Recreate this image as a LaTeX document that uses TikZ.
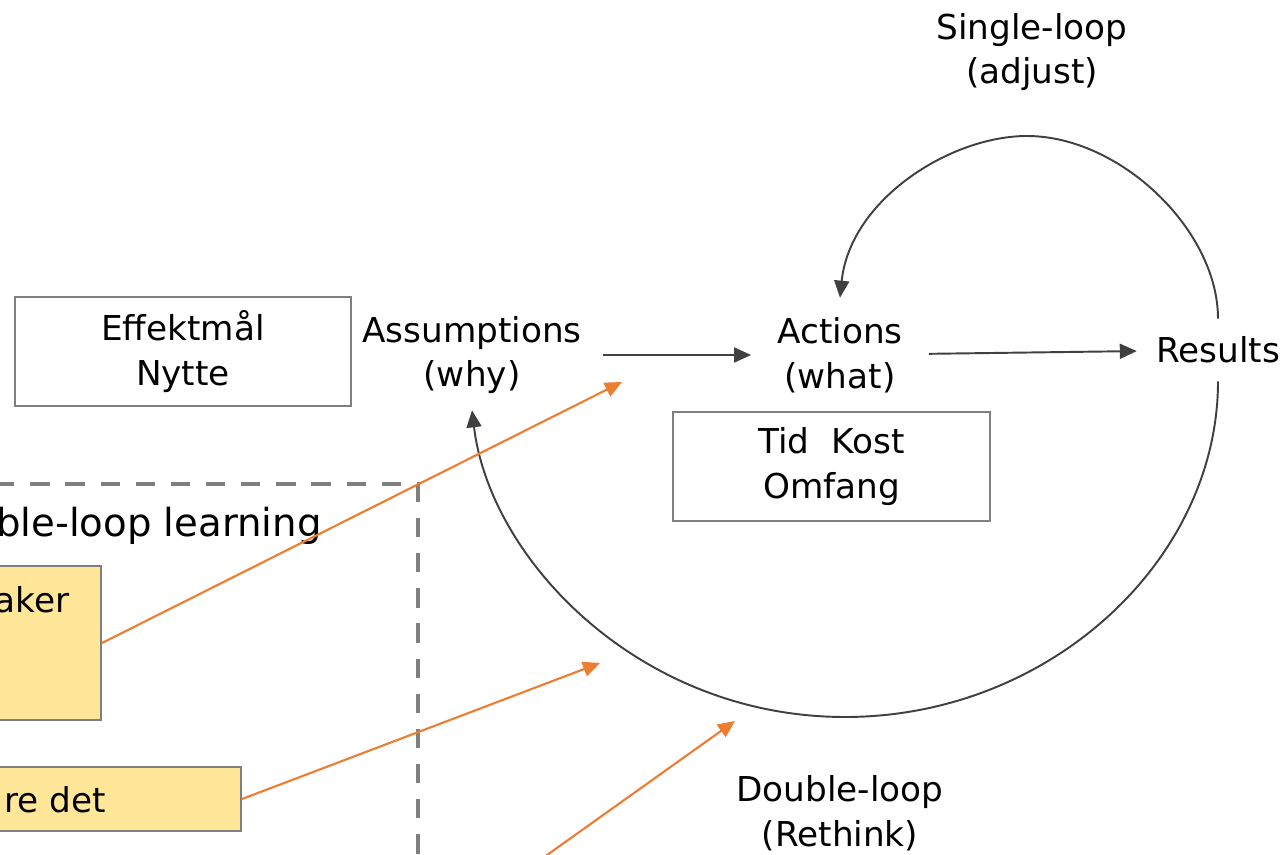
\documentclass[tikz,border=0pt]{standalone}
\usepackage{fontspec}
\setmainfont{DejaVu Sans}
\usetikzlibrary{arrows.meta}
\definecolor{linegray}{HTML}{404040}
\definecolor{framegray}{HTML}{7F7F7F}
\definecolor{accent}{HTML}{ED7D31}
\definecolor{notefill}{HTML}{FFE699}
\pgfdeclareradialshading{slideglow}{\pgfpoint{0bp}{0bp}}{color(0bp)=(white); color(25bp)=(white); color(46bp)=(black!13); color(50bp)=(black!13)}
\newcommand{\lblfont}{\fontsize{19.5}{25.5}\selectfont}

\begin{document}
\begin{tikzpicture}[x=0.02cm,y=-0.02cm,
  lbl/.style={align=center,font=\lblfont,inner xsep=0.42cm},
  boxed/.style={draw=framegray,line width=1.2pt,align=center,font=\lblfont},
  note/.style={draw=framegray,line width=1.2pt,fill=notefill},
  flow/.style={draw=linegray,line width=1.1pt,-{Triangle[length=3.4mm,width=3mm]}},
  push/.style={draw=accent,line width=1.2pt,-{Triangle[length=3.4mm,width=3mm]}}]
\useasboundingbox (0,0) rectangle (1286,855);
\clip (0,0) rectangle (1286,855);
\shade[shading=slideglow] (-210,-720) rectangle (1610,1520);

% left frame and notes
\draw[framegray,line width=2.3pt,dash pattern=on 11pt off 9pt] (-40,484) -| (418,900);
\node[font=\fontsize{22}{26}\selectfont,anchor=base east,inner sep=0pt] (dll) at (322,536) {Double-loop learning};
\node[note,minimum width=5.02cm,minimum height=3.08cm] (taker) at (-24.5,643) {};
\node[font=\lblfont,anchor=base east,inner sep=0pt] (takertxt) at (70,612) {aker};
\node[note,minimum width=7.82cm,minimum height=1.28cm] (todo) at (45.5,799) {};
\node[font=\lblfont,anchor=base east,inner sep=0pt] (todotxt) at (106,812) {re det};

% main row
\node[boxed,minimum width=6.72cm,minimum height=2.18cm] (goal) at (183,351.5) {Effektmål\\Nytte};
\node[lbl,minimum height=2.2cm] (why) at (472,355) {Assumptions\\(why)};
\node[lbl,inner xsep=0.52cm,minimum height=2.28cm] (what) at (840,355) {Actions\\(what)};
\node[lbl,inner xsep=0.38cm,minimum height=1.24cm] (res) at (1218,350) {Results};
\node[boxed,minimum width=6.34cm,minimum height=2.18cm] (scope) at (831.5,466.5) {Tid\ \ Kost\\Omfang};
\node[lbl] (single) at (1032,52) {Single-loop\\(adjust)};
\node[lbl] (double) at (840,813) {Double-loop\\(Rethink)};

\draw[flow] (why) -- (what);
\draw[flow] (what) -- (res);

% loops
\draw[flow] (res.north) .. controls (1218,230) and (1120,136) .. (1027,136) .. controls (950,136) and (850,200) .. (what.north);
\draw[flow] (res.south) .. controls (1218,560) and (1050,717) .. (845,717) .. controls (640,717) and (490,560) .. (why.south);

% orange pointers
\coordinate (p1) at (622,382);
\coordinate (p2) at (600,663);
\coordinate (p3) at (735,721);
\coordinate (p3s) at (512,880);
\draw[push] (taker.east) -- (p1);
\draw[push] (todo.east) -- (p2);
\draw[push] (p3s) -- (p3);
\end{tikzpicture}
\end{document}
